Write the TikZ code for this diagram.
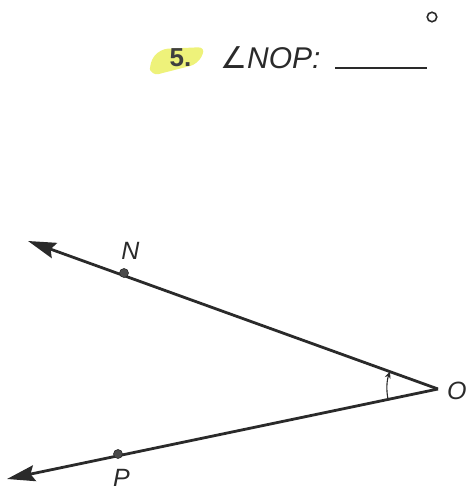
\documentclass[tikz,border=0pt]{standalone}
\usepackage{fontspec}
\setmainfont{Liberation Sans}
\newfontfamily\symfont{DejaVu Sans}
\usetikzlibrary{arrows.meta,calc}
\definecolor{ink}{HTML}{2A2A2A}
\definecolor{hilite}{HTML}{EEF27A}
\tikzset{
  ray/.style={line width=2.8pt, draw=ink, -{Stealth[length=28pt,width=16pt,inset=4pt]}},
  ptdot/.style={circle, fill=ink!85, draw=ink, line width=0.6pt, inner sep=0pt, minimum size=9pt},
  lbl/.style={font=\fontsize{25}{29}\selectfont\itshape, text=ink, inner sep=0pt},
  anglemark/.style={line width=1.1pt, draw=ink, -{Stealth[length=7pt,width=6pt]}}
}
\begin{document}
\begin{tikzpicture}[x=1pt,y=1pt]
\useasboundingbox (0,0) rectangle (466,491);
% title
\fill[hilite, rounded corners=8pt] (151,415) -- (198,427) -- (206,444) -- (160,442) -- (149,428) -- cycle;
\node[font=\fontsize{26}{30}\selectfont\bfseries, text=ink!90, inner sep=0pt, anchor=base] (num) at (180.5,424) {5.};
\node[font=\fontsize{30}{34}\selectfont\itshape, text=ink, inner sep=0pt, anchor=base west] (title) at (220,422) {{\symfont\slshape ∠}NOP:};
\coordinate (ulA) at (335,423);
\coordinate (ulB) at (427,423);
\draw[line width=1.6pt, draw=ink] (ulA) -- (ulB);
\node[circle, draw=ink, line width=1.6pt, inner sep=0pt, minimum size=9.5pt] (deg) at (432,474) {};
% geometry
\coordinate (O) at (438,102);
\coordinate (Ntip) at (28,250);
\coordinate (Ptip) at (7,12);
\draw[ray] (O) -- (Ntip);
\draw[ray] (O) -- (Ptip);
\node[ptdot] (N) at (124,218) {};
\node[ptdot] (P) at (118,37) {};
\node[lbl, anchor=base] (Nl) at (130.5,231) {N};
\node[lbl, anchor=base] (Pl) at (121.5,5) {P};
\node[lbl, anchor=base west] (Ol) at (447,91) {O};
% angle mark
\draw[anglemark] ($(O)!51pt!(Ptip)$) arc[start angle={180+12.0}, end angle={180-19.9}, radius=51pt];
\end{tikzpicture}
\end{document}
